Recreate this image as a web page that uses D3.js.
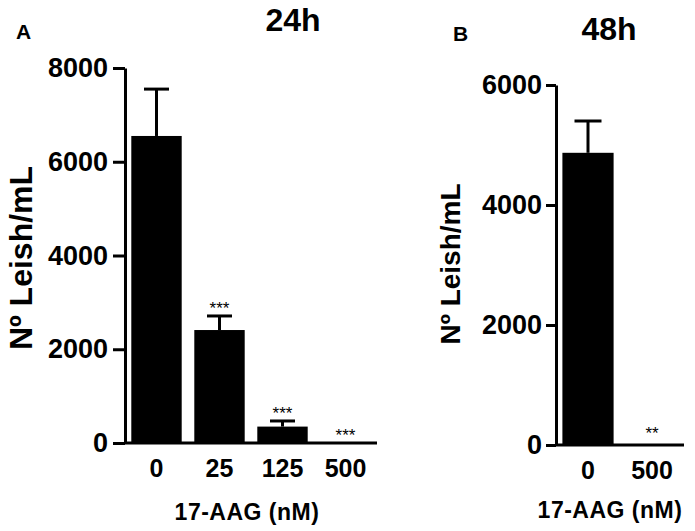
<!DOCTYPE html>
<html>
<head>
<meta charset="utf-8">
<script src="https://cdn.jsdelivr.net/npm/d3@7"></script>
<style>
  body { margin: 0; background: #fff; }
  svg { display: block; font-family: "Liberation Sans", Arial, sans-serif; }
</style>
</head>
<body>
<svg id="chart" width="695" height="531"></svg>
<script>
'use strict';

// panel A - 24h
const catsA = ["0", "25", "125", "500"];
const meansA = [6550, 2410, 350, 0];
const errA = [1000, 300, 120, 0];
const starsA = ["", "***", "***", "***"];
const ticksA = [0, 2000, 4000, 6000, 8000];

// panel B - 48h
const catsB = ["0", "500"];
const meansB = [4870, 0];
const errB = [530, 0];
const starsB = ["", "**"];
const ticksB = [0, 2000, 4000, 6000];

const svg = d3.select("#chart");

let drawPanel = (p) => {
    const g = svg.append("g");
    const y = d3.scaleLinear().domain([0, p.ymax]).range([p.y0, p.y1]);
    const x = d3.scaleBand().domain(p.cats).range([p.x0, p.x1])
        .paddingInner(0.2).paddingOuter(0.1);

    const rows = p.cats.map((c, i) => ({cat: c, mean: p.means[i], err: p.errs[i], star: p.stars[i]}));

    // bars
    g.selectAll(".bar")
        .data(rows)
        .enter().append("rect")
        .attr("x", d => x(d.cat))
        .attr("width", x.bandwidth())
        .attr("y", d => y(d.mean))
        .attr("height", d => y(0) - y(d.mean))
        .attr("fill", "black");

    // error bars (upper only)
    const eb = rows.filter(d => d.err > 0);
    g.selectAll(".err")
        .data(eb)
        .enter().append("line")
        .attr("x1", d => x(d.cat) + x.bandwidth() / 2)
        .attr("x2", d => x(d.cat) + x.bandwidth() / 2)
        .attr("y1", d => y(d.mean))
        .attr("y2", d => y(d.mean + d.err))
        .attr("stroke", "black").attr("stroke-width", 3);
    g.selectAll(".cap")
        .data(eb)
        .enter().append("line")
        .attr("x1", d => x(d.cat) + x.bandwidth() / 2 - p.cap / 2)
        .attr("x2", d => x(d.cat) + x.bandwidth() / 2 + p.cap / 2)
        .attr("y1", d => y(d.mean + d.err))
        .attr("y2", d => y(d.mean + d.err))
        .attr("stroke", "black").attr("stroke-width", 3);

    // significance stars
    g.selectAll(".star")
        .data(rows.filter(d => d.star))
        .enter().append("text")
        .text(d => d.star)
        .attr("x", d => x(d.cat) + x.bandwidth() / 2)
        .attr("y", d => y(d.mean + d.err) - p.starGap)
        .attr("text-anchor", "middle")
        .attr("font-size", "17px")
        .attr("fill", "black");

    // y axis
    const yAxis = g.append("g")
        .attr("transform", `translate(${p.x0},0)`)
        .call(d3.axisLeft(y).tickValues(p.ticks).tickFormat(d3.format("d"))
            .tickSize(p.tick).tickSizeOuter(0).tickPadding(p.pad));
    yAxis.selectAll("path, line").attr("stroke", "black").attr("stroke-width", 3);
    yAxis.selectAll("text")
        .attr("font-family", "'Liberation Sans', Arial, sans-serif")
        .attr("font-size", "27px").attr("font-weight", "bold").attr("fill", "black");

    // x axis: plain line, no ticks
    g.append("line")
        .attr("x1", p.x0).attr("x2", p.x1)
        .attr("y1", y(0)).attr("y2", y(0))
        .attr("stroke", "black").attr("stroke-width", 3);

    g.selectAll(".xlab")
        .data(p.cats)
        .enter().append("text")
        .text(d => d)
        .attr("x", d => x(d) + x.bandwidth() / 2)
        .attr("y", y(0) + 34)
        .attr("text-anchor", "middle")
        .attr("font-size", "25px").attr("font-weight", "bold");

    // axis titles
    g.append("text")
        .text("17-AAG (nM)")
        .attr("x", p.xTitleX).attr("y", p.xTitleY)
        .attr("text-anchor", "middle")
        .attr("font-size", "23px").attr("font-weight", "bold")
        .attr("letter-spacing", "0.5px");

    g.append("text")
        .text("Nº Leish/mL")
        .attr("transform", `translate(${p.yTitleX},${p.yTitleY}) rotate(-90)`)
        .attr("text-anchor", "middle")
        .attr("font-size", p.yTitleSize + "px").attr("font-weight", "bold");

    // title and panel letter
    g.append("text")
        .text(p.title)
        .attr("x", p.titleX).attr("y", p.titleY)
        .attr("text-anchor", "middle")
        .attr("font-size", "32px").attr("font-weight", "bold");
    g.append("text")
        .text(p.letter)
        .attr("x", p.letterX).attr("y", p.letterY)
        .attr("font-size", "21px").attr("font-weight", "bold");
}

drawPanel({
    cats: catsA, means: meansA, errs: errA, stars: starsA, ticks: ticksA, ymax: 8000,
    x0: 125, x1: 377, y0: 443, y1: 68, tick: 12, pad: 5, cap: 25, starGap: 2,
    xTitleX: 247, xTitleY: 520, yTitleX: 32, yTitleY: 258, yTitleSize: 32,
    title: "24h", titleX: 293, titleY: 31, letter: "A", letterX: 16, letterY: 39
});

drawPanel({
    cats: catsB, means: meansB, errs: errB, stars: starsB, ticks: ticksB, ymax: 6000,
    x0: 556, x1: 684, y0: 445, y1: 85, tick: 10, pad: 4, cap: 27, starGap: 6,
    xTitleX: 610, xTitleY: 518, yTitleX: 460, yTitleY: 264, yTitleSize: 28,
    title: "48h", titleX: 609, titleY: 40, letter: "B", letterX: 453, letterY: 41
});
</script>
</body>
</html>
